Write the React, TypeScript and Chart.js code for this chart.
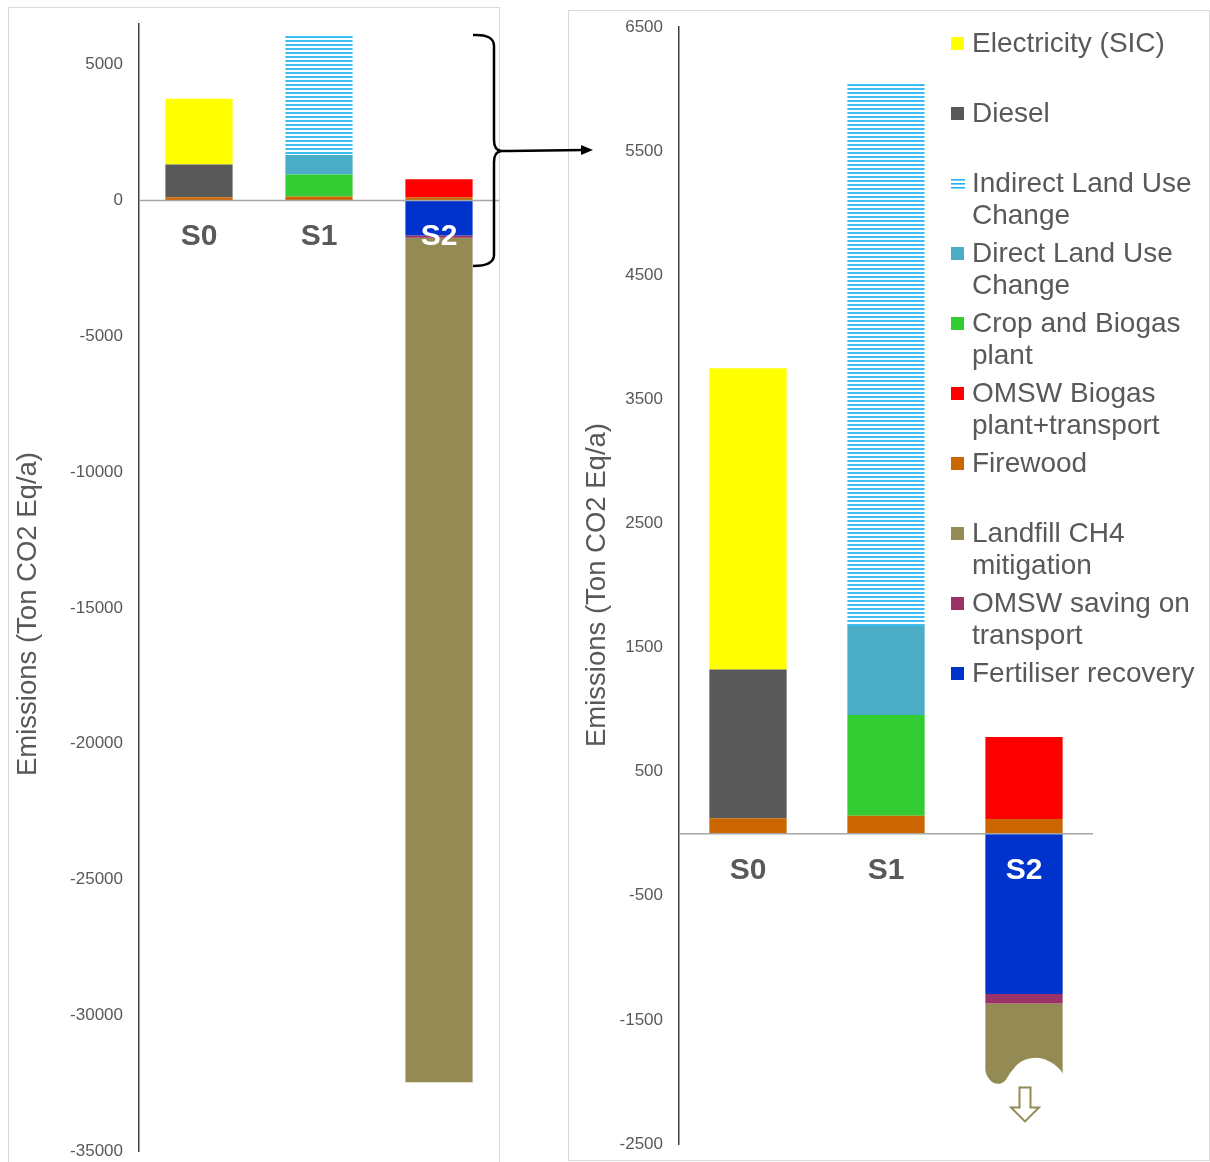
import React, { useEffect, useRef } from 'react';
import { Chart, registerables } from 'chart.js';

Chart.register(...registerables);

// ---------------- data ----------------
const categories = ['S0', 'S1', 'S2'];
const firewood = [124, 145, 118];
const diesel = [1200, null, null];
const electricity = [2427, null, null];
const cropBiogas = [null, 812, null];
const directLUC = [null, 717, null];
const indirectLUC = [null, 4383, null];
const omswBiogas = [null, null, 661];
const fertiliserRecovery = [null, null, -1292];
const omswSaving = [null, null, -76];
const landfillCH4 = [null, null, -31104];

const leftTicks = [5000, 0, -5000, -10000, -15000, -20000, -25000, -30000, -35000];
const rightTicks = [6500, 5500, 4500, 3500, 2500, 1500, 500, -500, -1500, -2500];
const leftRange = [-35000, 6500];
const rightRange = [-2500, 6500];
const rightCut = -2020; // the zoomed view breaks the landfill bar here
const yTitle = 'Emissions (Ton CO2 Eq/a)';

const seriesNames = [
  'Firewood',
  'Diesel',
  'Electricity (SIC)',
  'Crop and Biogas plant',
  'Direct Land Use Change',
  'Indirect Land Use Change',
  'OMSW Biogas plant+transport',
  'Fertiliser recovery',
  'OMSW saving on transport',
  'Landfill CH4 mitigation',
];
const seriesData = [
  firewood, diesel, electricity, cropBiogas, directLUC, indirectLUC,
  omswBiogas, fertiliserRecovery, omswSaving, landfillCH4,
];
const seriesColors = [
  '#CC6600', '#595959', '#FFFF00', '#33CC33', '#4BACC6', 'stripes',
  '#FF0000', '#0033CC', '#993366', '#948A54',
];
const legendOrder = [
  'Electricity (SIC)', 'Diesel', 'Indirect Land Use Change', 'Direct Land Use Change',
  'Crop and Biogas plant', 'OMSW Biogas plant+transport', 'Firewood',
  'Landfill CH4 mitigation', 'OMSW saving on transport', 'Fertiliser recovery',
];

const FONT = "'Liberation Sans', Arial, sans-serif";
const GREY = '#595959';

function makeStripes(): CanvasPattern | string {
  const c = document.createElement('canvas');
  c.width = 4; c.height = 4;
  const g = c.getContext('2d');
  if (!g) return '#8FD8F5';
  g.fillStyle = '#FFFFFF';
  g.fillRect(0, 0, 4, 4);
  g.fillStyle = '#3DBEF0';
  g.fillRect(0, 0, 4, 2);
  return g.createPattern(c, 'repeat') || '#8FD8F5';
}

// clip the negative stack of each category at `cut`
function clipStack(data: (number | null)[][], cut: number) {
  const cum = categories.map(() => 0);
  return data.map((arr) =>
    arr.map((v, i) => {
      if (v == null || v >= 0) return v;
      const next = Math.max(cum[i] + v, cut);
      const shown = next - cum[i];
      cum[i] = next;
      return shown;
    })
  );
}

function decorPlugin(o: { labelOffset: number; titleX: number; titleY: number; original?: (number | null)[][] }) {
  return {
    id: 'decor',
    afterDatasetsDraw(chart: any) {
      const { ctx, chartArea, scales } = chart;
      const x = scales.x;
      const y = scales.y;
      const y0 = y.getPixelForValue(0);
      // broken bar + arrow
      if (o.original) {
        chart.data.datasets.forEach((ds: any, di: number) => {
          ds.data.forEach((v: any, i: number) => {
            const orig = o.original![di][i];
            if (v == null || orig == null || v === orig) return;
            const el = chart.getDatasetMeta(di).data[i];
            const w = el.width;
            const x0 = el.x - w / 2;
            const x1 = el.x + w / 2;
            const yb = el.y;
            const fx = (f: number) => x0 + f * w;
            ctx.save();
            ctx.fillStyle = '#FFFFFF';
            ctx.beginPath();
            ctx.moveTo(x0 - 1, yb - 17);
            ctx.bezierCurveTo(fx(0.02), yb - 5, fx(0.1), yb + 1, fx(0.2), yb - 1);
            ctx.bezierCurveTo(fx(0.28), yb - 3, fx(0.29), yb - 10, fx(0.37), yb - 16);
            ctx.bezierCurveTo(fx(0.47), yb - 27, fx(0.68), yb - 29, fx(0.8), yb - 24);
            ctx.bezierCurveTo(fx(0.92), yb - 20, x1 - 1, yb - 14, x1 + 1, yb - 9);
            ctx.lineTo(x1 + 1, yb + 2);
            ctx.lineTo(x0 - 1, yb + 2);
            ctx.closePath();
            ctx.fill();
            // hollow arrow
            const cx = el.x + 1;
            ctx.beginPath();
            ctx.moveTo(cx - 5.5, yb + 3);
            ctx.lineTo(cx + 5.5, yb + 3);
            ctx.lineTo(cx + 5.5, yb + 23);
            ctx.lineTo(cx + 14, yb + 23);
            ctx.lineTo(cx, yb + 37);
            ctx.lineTo(cx - 14, yb + 23);
            ctx.lineTo(cx - 5.5, yb + 23);
            ctx.closePath();
            ctx.fillStyle = '#FFFFFF';
            ctx.fill();
            ctx.strokeStyle = '#948A54';
            ctx.lineWidth = 2;
            ctx.stroke();
            ctx.restore();
          });
        });
      }
      // zero line
      ctx.save();
      ctx.strokeStyle = '#A6A6A6';
      ctx.lineWidth = 1.5;
      ctx.beginPath();
      ctx.moveTo(chartArea.left, y0);
      ctx.lineTo(chartArea.right, y0);
      ctx.stroke();
      // category labels
      ctx.font = `bold 30px ${FONT}`;
      ctx.textAlign = 'center';
      ctx.textBaseline = 'middle';
      categories.forEach((c, i) => {
        const onBar = chart.data.datasets.some((ds: any) => ds.data[i] != null && ds.data[i] < 0);
        ctx.fillStyle = onBar ? '#FFFFFF' : GREY;
        ctx.fillText(c, x.getPixelForValue(i), y0 + o.labelOffset);
      });
      ctx.restore();
    },
    afterDraw(chart: any) {
      const { ctx } = chart;
      ctx.save();
      ctx.translate(o.titleX, o.titleY);
      ctx.rotate(-Math.PI / 2);
      ctx.font = `27.5px ${FONT}`;
      ctx.fillStyle = GREY;
      ctx.textAlign = 'center';
      ctx.textBaseline = 'middle';
      ctx.fillText(yTitle, 0, 0);
      ctx.restore();
    },
  };
}

function makeConfig(
  data: (number | null)[][],
  stripes: any,
  range: number[],
  ticks: number[],
  axisWidth: number,
  padding: any,
  plugin: any
): any {
  return {
    type: 'bar',
    data: {
      labels: categories,
      datasets: seriesNames.map((name, i) => ({
        label: name,
        data: data[i],
        backgroundColor: seriesColors[i] === 'stripes' ? stripes : seriesColors[i],
        borderWidth: 0,
        barPercentage: 0.56,
        categoryPercentage: 1,
      })),
    },
    options: {
      responsive: false,
      animation: false,
      devicePixelRatio: 1,
      layout: { padding },
      plugins: { legend: { display: false }, tooltip: { enabled: false } },
      scales: {
        x: { type: 'category', display: false, stacked: true },
        y: {
          type: 'linear',
          stacked: true,
          min: range[0],
          max: range[1],
          afterBuildTicks: (s: any) => {
            s.ticks = ticks.map((v) => ({ value: v }));
          },
          afterFit: (s: any) => {
            s.width = axisWidth;
            s.paddingTop = 0;
            s.paddingBottom = 0;
          },
          grid: { display: false, drawTicks: false },
          border: { display: true, color: '#404040', width: 1.5 },
          ticks: {
            autoSkip: false,
            padding: 16,
            color: GREY,
            font: { family: FONT, size: 17 },
            callback: (v: any) => String(v),
          },
        },
      },
    },
    plugins: [plugin],
  };
}

function LegendMarker({ color }: { color: string }) {
  if (color === 'stripes') {
    return (
      <svg width={14} height={13} style={{ position: 'absolute', left: 0, top: 10 }}>
        <rect x={0} y={2} width={14} height={1.6} fill="#1FB4EE" />
        <rect x={0} y={6} width={14} height={1.6} fill="#1FB4EE" />
        <rect x={0} y={10} width={14} height={1.6} fill="#1FB4EE" />
      </svg>
    );
  }
  return (
    <div
      style={{ position: 'absolute', left: 0, top: 10, width: 13, height: 13, background: color }}
    />
  );
}

export default function App() {
  const leftRef = useRef<HTMLCanvasElement>(null);
  const rightRef = useRef<HTMLCanvasElement>(null);

  useEffect(() => {
    const stripes = makeStripes();
    const left = new Chart(
      leftRef.current as HTMLCanvasElement,
      makeConfig(
        seriesData,
        stripes,
        leftRange,
        leftTicks,
        139,
        { left: 0, right: 21, top: 24, bottom: 11 },
        decorPlugin({ labelOffset: 36, titleX: 28, titleY: 614 })
      )
    );
    const right = new Chart(
      rightRef.current as HTMLCanvasElement,
      makeConfig(
        clipStack(seriesData, rightCut),
        stripes,
        rightRange,
        rightTicks,
        119,
        { left: 0, right: 117, top: 27, bottom: 18 },
        decorPlugin({ labelOffset: 37, titleX: 37, titleY: 585, original: seriesData })
      )
    );
    return () => {
      left.destroy();
      right.destroy();
    };
  }, []);

  return (
    <div
      style={{
        position: 'absolute',
        left: 0,
        top: 0,
        width: 1210,
        height: 1162,
        background: '#FFFFFF',
        overflow: 'hidden',
        fontFamily: FONT,
      }}
    >
      <div
        style={{
          position: 'absolute', left: 8, top: 7, width: 492, height: 1170,
          border: '1px solid #D9D9D9', boxSizing: 'border-box',
        }}
      />
      <div
        style={{
          position: 'absolute', left: 568, top: 10, width: 642, height: 1151,
          border: '1px solid #D9D9D9', boxSizing: 'border-box',
        }}
      />
      <canvas
        ref={leftRef}
        width={520}
        height={1162}
        style={{ position: 'absolute', left: 0, top: 0, width: 520, height: 1162 }}
      />
      <canvas
        ref={rightRef}
        width={650}
        height={1162}
        style={{ position: 'absolute', left: 560, top: 0, width: 650, height: 1162 }}
      />
      <svg
        width={1210}
        height={1162}
        style={{ position: 'absolute', left: 0, top: 0, pointerEvents: 'none' }}
      >
        <path
          d="M473,35 Q494,34 494,46 L494,140 Q494,150 501,151 Q494,152 494,162 L494,255 Q494,266 473,266"
          fill="none"
          stroke="#000"
          strokeWidth={2.5}
        />
        <line x1={500} y1={151} x2={584} y2={150} stroke="#000" strokeWidth={2.5} />
        <polygon points="581,145 593,150 581,155" fill="#000" />
      </svg>
      <div style={{ position: 'absolute', left: 951, top: 27, width: 259 }}>
        {legendOrder.map((name) => {
          const idx = seriesNames.indexOf(name);
          return (
            <div key={name} style={{ position: 'relative', height: 70 }}>
              <LegendMarker color={seriesColors[idx]} />
              <div
                style={{
                  position: 'absolute',
                  left: 21,
                  top: 0,
                  width: 238,
                  fontSize: 28,
                  lineHeight: '32px',
                  color: GREY,
                }}
              >
                {name}
              </div>
            </div>
          );
        })}
      </div>
    </div>
  );
}
